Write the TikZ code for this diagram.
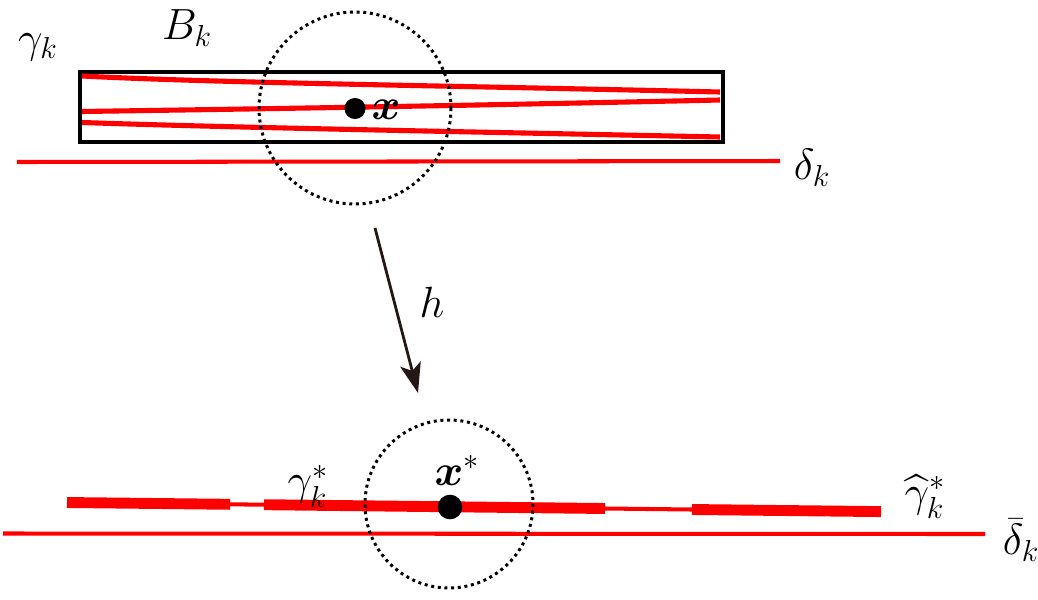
\documentclass[tikz,border=0pt]{standalone}
\usepackage{amsmath}
\usetikzlibrary{arrows.meta}
\definecolor{arrowc}{HTML}{231815}
\tikzset{
  redline/.style={red, line width=2.9pt},
  redthin/.style={red, line width=2.3pt},
  redthick/.style={red, line width=6.2pt},
  dotcirc/.style={black, line width=1.7pt, dash pattern=on 1.7pt off 2.1pt},
  lab/.style={inner sep=0pt, font=\fontsize{24}{28}\selectfont},
  pt/.style={circle, fill=black, inner sep=0pt},
}
\begin{document}
\begin{tikzpicture}[x=0.02cm, y=-0.02cm]
\useasboundingbox (0,0) rectangle (1038,599);
% top part
\draw[black, line width=2.3pt] (80,72) rectangle (723,142);
\draw[redline] (82,76) .. controls (220,83) and (420,85) .. (720,92);
\draw[redline] (82,111.5) .. controls (250,109) and (450,106) .. (720,100);
\draw[redline] (82,122.5) .. controls (230,127.5) and (430,131) .. (720,137);
\draw[redthin] (17,162) -- (780,161);
\draw[dotcirc] (355,108) circle (96);
\node[pt, minimum size=12pt] (x) at (355,108.5) {};
\node[lab] (xl) at (386,110) {$\boldsymbol{x}$};
\node[lab] (Bk) at (187,28) {$B_k$};
\node[lab] (gk) at (38,47) {$\gamma_k$};
\node[lab] (dk) at (812,168) {$\delta_k$};
% arrow
\coordinate (a1) at (375,228);
\coordinate (a2) at (418,393);
\draw[arrowc, line width=1.6pt, -{Stealth[length=17pt, width=12pt, inset=4pt]}] (a1) -- (a2);
\node[lab] (h) at (432,302) {$h$};
% bottom part
\draw[redthick, line cap=butt] (67,502.5) -- (230,504.3);
\draw[redthin] (230,504.3) -- (264,504.7);
\draw[redthick, line cap=butt] (264,504.7) -- (605,508.5);
\draw[redthin] (605,508.5) -- (692,509.5);
\draw[redthick, line cap=butt] (692,509.5) -- (881,511.6);
\draw[redthin] (3,533.5) -- (985,534);
\draw[dotcirc] (449,504) circle (84);
\node[pt, minimum size=14pt] (xs) at (450,507) {};
\node[lab] (xsl) at (457,470) {$\boldsymbol{x}^*$};
\node[lab] (gks) at (308,486) {$\gamma_k^*$};
\node[lab] (ghks) at (925,497) {$\widehat{\gamma}_k^*$};
\node[lab] (dbk) at (1021,540) {$\bar{\delta}_k$};
\end{tikzpicture}
\end{document}
